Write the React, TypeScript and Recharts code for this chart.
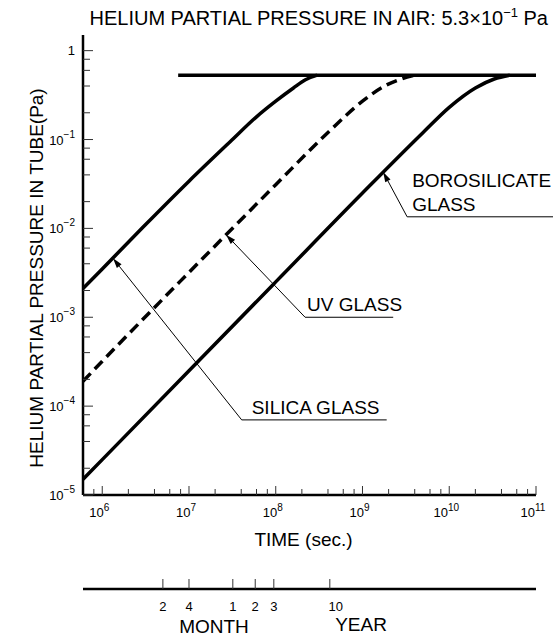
import React from "react";
import { LineChart, Line, XAxis, YAxis, ReferenceLine, Label } from "recharts";

const FONT = "'Liberation Sans', Arial, Helvetica, sans-serif";

// helium pressure (Pa) against time (s)
const silicaTime = [6e5, 1e6, 3e6, 1e7, 3e7, 6e7, 1e8, 1.6e8, 2.2e8, 3e8];
const silicaPressure = [2.1e-3, 3.5e-3, 1.05e-2, 3.4e-2, 9.5e-2, 0.18, 0.27, 0.38, 0.47, 0.53];

const uvTime = [6e5, 1e6, 1e7, 1e8, 4e8, 1e9, 1.8e9, 2.8e9, 4e9];
const uvPressure = [1.9e-4, 3.2e-4, 3.2e-3, 3.1e-2, 0.12, 0.27, 0.4, 0.48, 0.53];

const boroTime = [6e5, 1e6, 1e7, 1e8, 1e9, 5e9, 1e10, 2e10, 3.3e10, 5e10];
const boroPressure = [1.5e-5, 2.5e-5, 2.5e-4, 2.5e-3, 2.5e-2, 0.12, 0.23, 0.38, 0.48, 0.53];

// partial pressure in air
const airTime = [7.5e6, 1e11];
const airPressure = [0.53, 0.53];

const timeTicks = [
  8e5, 1e6, 2e6, 4e6, 6e6, 8e6, 1e7, 2e7, 4e7, 6e7, 8e7, 1e8, 2e8, 4e8, 6e8, 8e8,
  1e9, 2e9, 4e9, 6e9, 8e9, 1e10, 2e10, 4e10, 6e10, 8e10, 1e11,
];
const pressureTicks = [
  1e-5, 2e-5, 4e-5, 6e-5, 8e-5, 1e-4, 2e-4, 4e-4, 6e-4, 8e-4, 1e-3, 2e-3, 4e-3, 6e-3, 8e-3,
  1e-2, 2e-2, 4e-2, 6e-2, 8e-2, 0.1, 0.2, 0.4, 0.6, 0.8, 1,
];

// months / years scale under the time axis
const calendarTicks = [5.0e6, 1.0e7, 3.2e7, 5.8e7, 9.5e7, 4.2e8];
const calendarLabels = ["2", "4", "1", "2", "3", "10"];

// callouts: arrow tip on the curve, elbow of the leader, end of the underline
const noteText = [["SILICA GLASS"], ["UV GLASS"], ["BOROSILICATE", "GLASS"]];
const noteTipTime = [1.33e6, 2.67e7, 1.73e9];
const noteTipPressure = [4.6e-3, 8.5e-3, 4.3e-2];
const noteElbowTime = [4.05e7, 2.18e8, 3.27e9];
const noteElbowPressure = [7.0e-5, 1.0e-3, 1.35e-2];
const noteEndTime = [1.9e9, 2.26e9, 1.6e11];

const pts = (ts: number[], ps: number[]) => ts.map((t, i) => ({ t, p: ps[i] }));

const isMajor = (v: number) => Math.abs(Math.log10(v) - Math.round(Math.log10(v))) < 1e-6;

const TimeTick = (props: any) => {
  const { x, y, payload } = props;
  const v = payload.value;
  const major = isMajor(v);
  const e = Math.round(Math.log10(v));
  return (
    <g>
      <line x1={x} x2={x} y1={y} y2={y - (major ? 9 : 6)} stroke="#333" strokeWidth={1} />
      {major && (
        <text x={x - 3} y={y + 22} textAnchor="middle" fontSize={13} fontFamily={FONT} fill="#000">
          10
          <tspan dy={-6} fontSize={10}>
            {e}
          </tspan>
        </text>
      )}
    </g>
  );
};

const PressureTick = (props: any) => {
  const { x, y, payload } = props;
  const v = payload.value;
  const major = isMajor(v);
  const e = Math.round(Math.log10(v));
  return (
    <g>
      <line x1={x} x2={x + (major ? 10 : 7)} y1={y} y2={y} stroke="#333" strokeWidth={1} />
      {major &&
        (e === 0 ? (
          <text x={x - 8} y={y + 4} textAnchor="end" fontSize={13} fontFamily={FONT} fill="#000">
            1
          </text>
        ) : (
          <text x={x - 8} y={y + 5} textAnchor="end" fontSize={13} fontFamily={FONT} fill="#000">
            10
            <tspan dy={-7} fontSize={10}>
              {"\u2212" + -e}
            </tspan>
          </text>
        ))}
    </g>
  );
};

const CalendarTick = (props: any) => {
  const { x, y, payload } = props;
  const i = calendarTicks.indexOf(payload.value);
  const label = calendarLabels[i] ?? "";
  return (
    <g>
      <line x1={x} x2={x} y1={y} y2={y - 10} stroke="#333" strokeWidth={1} />
      <text
        x={label.length > 1 ? x + 6 : x}
        y={y + 22}
        textAnchor="middle"
        fontSize={13}
        fontFamily={FONT}
        fill="#000"
      >
        {label}
      </text>
    </g>
  );
};

// leader line from the elbow to the arrow tip on the curve
const arrowShape = (props: any) => {
  const { x1, y1, x2, y2 } = props;
  const a = Math.atan2(y2 - y1, x2 - x1);
  const len = 10;
  const w = 3;
  const bx = x2 - len * Math.cos(a);
  const by = y2 - len * Math.sin(a);
  const px = -Math.sin(a) * w;
  const py = Math.cos(a) * w;
  return (
    <g>
      <line x1={x1} y1={y1} x2={bx} y2={by} stroke="#000" strokeWidth={1} />
      <polygon points={`${x2},${y2} ${bx + px},${by + py} ${bx - px},${by - py}`} fill="#000" />
    </g>
  );
};

// underline with the glass name above it
const underlineShape = (lines: string[], indent: number) => (props: any) => {
  const { x1, y1, x2, y2 } = props;
  return (
    <g>
      <line x1={x1} y1={y1} x2={x2} y2={y2} stroke="#000" strokeWidth={1} />
      {lines.map((s, k) => (
        <text
          key={s}
          x={x1 + indent}
          y={y1 - 6 - (lines.length - 1 - k) * 24}
          fontSize={19}
          fontFamily={FONT}
          fill="#000"
        >
          {s}
        </text>
      ))}
    </g>
  );
};

const noteIndent = [10, 2, 5];

export default function App() {
  const lineProps = {
    xAxisId: "time",
    yAxisId: "p",
    dataKey: "p",
    type: "monotone" as const,
    stroke: "#000",
    strokeWidth: 3.5,
    dot: false,
    activeDot: false,
    isAnimationActive: false,
  };
  return (
    <div style={{ position: "absolute", left: 0, top: 0, background: "#fff" }}>
      <LineChart width={553} height={637} margin={{ top: 35, right: 17, bottom: 0, left: 0 }}>
        <text x={548} y={25} textAnchor="end" fontSize={20} fontFamily={FONT} fill="#000">
          HELIUM PARTIAL PRESSURE IN AIR: 5.3×10
          <tspan dy={-8} fontSize={13}>
            −1
          </tspan>
          <tspan dy={8}> Pa</tspan>
        </text>
        <XAxis
          xAxisId="time"
          type="number"
          dataKey="t"
          scale="log"
          domain={[6e5, 1e11]}
          allowDataOverflow
          ticks={timeTicks}
          interval={0}
          tick={TimeTick}
          tickLine={false}
          tickSize={0}
          tickMargin={0}
          height={94}
          axisLine={{ stroke: "#000", strokeWidth: 2.5 }}
        >
          <Label
            content={(p: any) => (
              <text
                x={p.viewBox.x + p.viewBox.width / 2 - 6}
                y={p.viewBox.y + 51}
                textAnchor="middle"
                fontSize={19}
                fontFamily={FONT}
                fill="#000"
              >
                TIME (sec.)
              </text>
            )}
          />
        </XAxis>
        <XAxis
          xAxisId="year"
          type="number"
          dataKey="t"
          scale="log"
          domain={[6e5, 1e11]}
          allowDataOverflow
          includeHidden
          ticks={calendarTicks}
          interval={0}
          tick={CalendarTick}
          tickLine={false}
          tickSize={0}
          tickMargin={0}
          height={48}
          axisLine={{ stroke: "#000", strokeWidth: 2.5 }}
        >
          <Label
            content={(p: any) => (
              <g fontSize={19} fontFamily={FONT} fill="#000" textAnchor="middle">
                <text x={214} y={p.viewBox.y + 44}>
                  MONTH
                </text>
                <text x={361} y={p.viewBox.y + 42}>
                  YEAR
                </text>
              </g>
            )}
          />
        </XAxis>
        <YAxis
          yAxisId="p"
          type="number"
          scale="log"
          domain={[1e-5, 1.5]}
          allowDataOverflow
          ticks={pressureTicks}
          interval={0}
          tick={PressureTick}
          tickLine={false}
          tickSize={0}
          tickMargin={0}
          width={83}
          axisLine={{ stroke: "#000", strokeWidth: 2.5 }}
        >
          <Label
            content={() => (
              <text
                x={0}
                y={0}
                transform="translate(43 278) rotate(-90)"
                textAnchor="middle"
                fontSize={19}
                fontFamily={FONT}
                fill="#000"
              >
                HELIUM PARTIAL PRESSURE IN TUBE(Pa)
              </text>
            )}
          />
        </YAxis>
        {/* hidden copy of the air level so the calendar scale has data */}
        <Line
          xAxisId="year"
          yAxisId="p"
          dataKey="p"
          data={pts(airTime, airPressure)}
          hide
          isAnimationActive={false}
        />
        <Line {...lineProps} data={pts(airTime, airPressure)} />
        <Line {...lineProps} data={pts(silicaTime, silicaPressure)} />
        <Line {...lineProps} data={pts(uvTime, uvPressure)} strokeDasharray="11 6" />
        <Line {...lineProps} data={pts(boroTime, boroPressure)} />
        {noteText.map((lines, i) => (
          <ReferenceLine
            key={"a" + i}
            xAxisId="time"
            yAxisId="p"
            ifOverflow="visible"
            segment={[
              { x: noteElbowTime[i], y: noteElbowPressure[i] },
              { x: noteTipTime[i], y: noteTipPressure[i] },
            ]}
            shape={arrowShape}
          />
        ))}
        {noteText.map((lines, i) => (
          <ReferenceLine
            key={"u" + i}
            xAxisId="time"
            yAxisId="p"
            ifOverflow="visible"
            segment={[
              { x: noteElbowTime[i], y: noteElbowPressure[i] },
              { x: noteEndTime[i], y: noteElbowPressure[i] },
            ]}
            shape={underlineShape(lines, noteIndent[i])}
          />
        ))}
      </LineChart>
    </div>
  );
}
